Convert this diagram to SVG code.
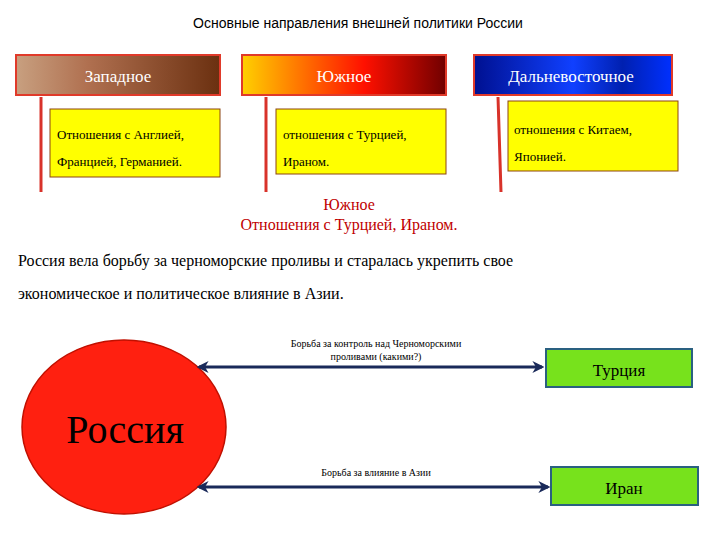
<svg xmlns="http://www.w3.org/2000/svg" width="720" height="540" viewBox="0 0 720 540">
<style>
.s{font-family:"Liberation Sans",Arial,sans-serif}
.t{font-family:"Liberation Serif","Times New Roman",serif}
.bar{stroke:#e03a2a;stroke-width:2}
.yb{fill:#ffff00;stroke:#8b4513;stroke-width:1}
.vl{stroke:#d8322a;stroke-width:3}
.gb{fill:#77e21c;stroke:#2a6080;stroke-width:2}
.ar{stroke:#1a2a5a;stroke-width:3;marker-start:url(#a);marker-end:url(#a)}
</style>
<defs>
<linearGradient id="g1"><stop offset="0" stop-color="#c8a080"/><stop offset="0.35" stop-color="#b07050"/><stop offset="1" stop-color="#6b3010"/></linearGradient>
<linearGradient id="g2"><stop offset="0" stop-color="#ffd000"/><stop offset="0.6" stop-color="#ff1000"/><stop offset="1" stop-color="#700000"/></linearGradient>
<linearGradient id="g3"><stop offset="0" stop-color="#001090"/><stop offset="0.5" stop-color="#1040ff"/><stop offset="0.75" stop-color="#0020b0"/><stop offset="1" stop-color="#0030ff"/></linearGradient>
<marker id="a" viewBox="0 0 10 10" refX="8" refY="5" markerWidth="4" markerHeight="4" orient="auto-start-reverse"><path d="M0,0L10,5L0,10L3,5Z" fill="#1a2a5a"/></marker>
</defs>
<text class="s" x="358" y="28" font-size="14" text-anchor="middle">Основные направления внешней политики России</text>
<g id="west">
<rect class="bar" x="16" y="55" width="204" height="40" fill="url(#g1)"/>
<text class="t" x="118" y="82" font-size="17" fill="#fff" text-anchor="middle">Западное</text>
<line class="vl" x1="41" y1="97" x2="41" y2="192"/>
<rect class="yb" x="50" y="109" width="170" height="68"/>
<text class="t" x="57" y="139" font-size="13">Отношения с Англией,</text>
<text class="t" x="57" y="166" font-size="13">Францией, Германией.</text>
</g>
<g id="south">
<rect class="bar" x="242" y="55" width="204" height="40" fill="url(#g2)"/>
<text class="t" x="344" y="82" font-size="17" fill="#fff" text-anchor="middle">Южное</text>
<line class="vl" x1="266" y1="97" x2="266" y2="192"/>
<rect class="yb" x="276" y="109" width="170" height="65"/>
<text class="t" x="283" y="139" font-size="13">отношения с Турцией,</text>
<text class="t" x="283" y="166" font-size="13">Ираном.</text>
</g>
<g id="east">
<rect class="bar" x="474" y="55" width="198" height="40" fill="url(#g3)"/>
<text class="t" x="571" y="82" font-size="17" fill="#fff" text-anchor="middle">Дальневосточное</text>
<line class="vl" x1="498" y1="97" x2="501" y2="192"/>
<rect class="yb" x="508" y="101" width="170" height="70"/>
<text class="t" x="514" y="134" font-size="13">отношения с Китаем,</text>
<text class="t" x="514" y="161" font-size="13">Японией.</text>
</g>
<g id="heading">
<text class="t" x="349" y="210" font-size="16" fill="#c00000" text-anchor="middle">Южное</text>
<text class="t" x="349" y="230" font-size="16" fill="#c00000" text-anchor="middle">Отношения с Турцией, Ираном.</text>
<text class="t" x="18" y="266" font-size="16">Россия вела борьбу за черноморские проливы и старалась укрепить свое</text>
<text class="t" x="18" y="299" font-size="16">экономическое и политическое влияние в Азии.</text>
</g>
<g id="russia">
<ellipse cx="124" cy="427" rx="102" ry="87" fill="#ff2010" stroke="#c01000" stroke-width="1.5"/>
<text class="t" x="125" y="443" font-size="40" text-anchor="middle">Россия</text>
</g>
<g id="turkey">
<rect class="gb" x="546" y="349" width="146" height="38"/>
<text class="t" x="619" y="376" font-size="17" text-anchor="middle">Турция</text>
</g>
<g id="iran">
<rect class="gb" x="551" y="467" width="147" height="38"/>
<text class="t" x="624" y="494" font-size="17" text-anchor="middle">Иран</text>
</g>
<g id="connectors">
<line class="ar" x1="199" y1="367" x2="542" y2="367"/>
<line class="ar" x1="199" y1="487" x2="548" y2="487"/>
<text class="t" x="376" y="347" font-size="10" text-anchor="middle">Борьба за контроль над Черноморскими</text>
<text class="t" x="376" y="360" font-size="10" text-anchor="middle">проливами (какими?)</text>
<text class="t" x="376" y="476" font-size="10" text-anchor="middle">Борьба за влияние в Азии</text>
</g>
</svg>
